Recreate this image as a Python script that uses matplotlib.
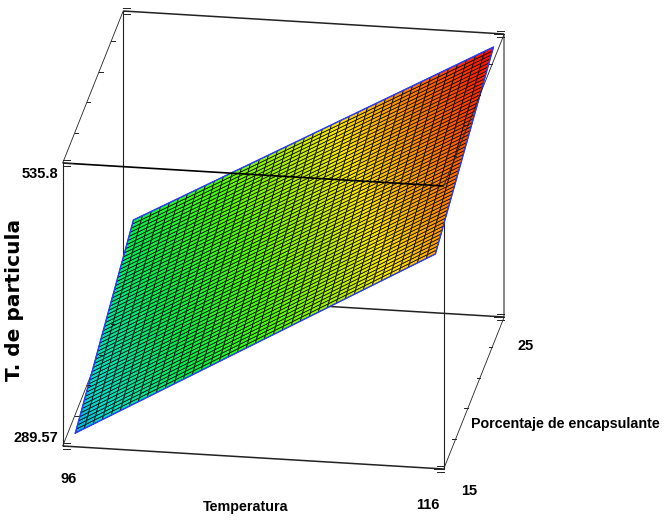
#!/usr/bin/env python3
"""3D response surface: T. de particula vs Temperatura and Porcentaje de encapsulante."""
import numpy as np
import matplotlib
matplotlib.use("Agg")
import matplotlib.pyplot as plt
from matplotlib.collections import PolyCollection
from matplotlib.colors import LinearSegmentedColormap

# axis ranges
temp_range = [96, 116]
pct_range = [15, 25]
size_range = [289.57, 535.8]

# surface corners
surf_temp = [96.6, 115.5]
surf_pct = [15.2, 24.8]
surf_size = [[298.8, 357.2],   # T low: pct low, pct high
             [473.5, 526.6]]   # T high
n_temp = 40
n_pct = 52

pct_ticks = [17, 19, 21, 23]

# oblique projection of the box, in pixels
origin = np.array([62.7, 446.0])
vec_t = np.array([381.0, 23.0])
vec_p = np.array([60.5, -152.0])
vec_z = np.array([0.0, -283.0])


def project(t, p, z):
    a = (np.asarray(t, float) - temp_range[0]) / (temp_range[1] - temp_range[0])
    b = (np.asarray(p, float) - pct_range[0]) / (pct_range[1] - pct_range[0])
    c = (np.asarray(z, float) - size_range[0]) / (size_range[1] - size_range[0])
    x = origin[0] + a * vec_t[0] + b * vec_p[0] + c * vec_z[0]
    y = origin[1] + a * vec_t[1] + b * vec_p[1] + c * vec_z[1]
    return x, y


fig = plt.figure(figsize=(6.64, 5.23), dpi=100)
ax = fig.add_axes([0, 0, 1, 1])
ax.set_xlim(0, 664)
ax.set_ylim(523, 0)
ax.axis("off")

t0, t1 = temp_range
p0, p1 = pct_range
z0, z1 = size_range


def edge(a, b, zorder=1, lw=0.8, color="#222222"):
    xs, ys = project([a[0], b[0]], [a[1], b[1]], [a[2], b[2]])
    ax.plot(xs, ys, color=color, lw=lw, zorder=zorder, solid_capstyle="butt")


# box edges behind the surface
edge((t0, p0, z0), (t0, p0, z1))
edge((t0, p1, z0), (t0, p1, z1))
edge((t1, p0, z0), (t1, p0, z1))
edge((t1, p1, z0), (t1, p1, z1), lw=1.1, color="#666666")
edge((t0, p0, z0), (t1, p0, z0), lw=1.1)
edge((t0, p1, z0), (t1, p1, z0), lw=1.1)
edge((t0, p0, z0), (t0, p1, z0), lw=0.6)
edge((t1, p0, z0), (t1, p1, z0), lw=0.6)
edge((t0, p0, z1), (t0, p1, z1), lw=0.6)
edge((t0, p1, z1), (t1, p1, z1), lw=1.1)

# surface mesh
tt = np.linspace(surf_temp[0], surf_temp[1], n_temp + 1)
pp = np.linspace(surf_pct[0], surf_pct[1], n_pct + 1)
T, P = np.meshgrid(tt, pp, indexing="ij")
u = (T - surf_temp[0]) / (surf_temp[1] - surf_temp[0])
v = (P - surf_pct[0]) / (surf_pct[1] - surf_pct[0])
Z = ((1 - u) * (1 - v) * surf_size[0][0] + (1 - u) * v * surf_size[0][1]
     + u * (1 - v) * surf_size[1][0] + u * v * surf_size[1][1])
X, Y = project(T, P, Z)

cmap = LinearSegmentedColormap.from_list("surf", [
    (0.0, "#0090e8"), (0.10, "#00e0d0"), (0.27, "#00f050"), (0.45, "#50ff00"),
    (0.68, "#ffe800"), (1.0, "#ff0000")])

polys = []
vals = []
for i in range(n_temp):
    for j in range(n_pct):
        polys.append([(X[i, j], Y[i, j]), (X[i + 1, j], Y[i + 1, j]),
                      (X[i + 1, j + 1], Y[i + 1, j + 1]), (X[i, j + 1], Y[i, j + 1])])
        vals.append(Z[i:i + 2, j:j + 2].mean())
vals = np.array(vals)
mesh = PolyCollection(polys, array=(vals - z0) / (z1 - z0), cmap=cmap, clim=(0, 0.97),
                      edgecolors="#0a0a0a", linewidths=0.55, zorder=2)
ax.add_collection(mesh)

# blue outline of the surface
bx = np.concatenate([X[:, 0], X[-1, :], X[::-1, -1], X[0, ::-1]])
by = np.concatenate([Y[:, 0], Y[-1, :], Y[::-1, -1], Y[0, ::-1]])
ax.plot(bx, by, color="#2a3cff", lw=1.0, zorder=3)

# box edges drawn over the surface
edge((t0, p0, z1), (t1, p0, z1), zorder=4, lw=1.2, color="black")
edge((t1, p0, z1), (t1, p1, z1), zorder=4, lw=0.6)

# ticks along the percentage edges
tick_len = 3.5
for pct in pct_ticks:
    for tv, zv, sign in [(t0, z0, 1), (t0, z1, 1), (t1, z0, -1), (t1, z1, -1)]:
        x, y = project(tv, pct, zv)
        ax.plot([x, x + sign * tick_len], [y, y], color="#222222", lw=0.7, zorder=4)

# short marks bunched at the box corners
for tv, pv, zv, sign in [(t0, p0, z1, 1), (t0, p1, z1, 1), (t1, p1, z1, -1),
                         (t0, p0, z0, 1), (t1, p0, z0, -1), (t1, p1, z0, -1)]:
    x, y = project(tv, pv, zv)
    for off, ln in [(-3, 7), (0, 10), (3, 7)]:
        ax.plot([x, x + sign * ln], [y + off, y + off], color="#222222", lw=0.7, zorder=4)

# labels
num_font = dict(family="Liberation Sans", fontweight="bold", fontsize=10.5,
                color="black", va="center")
txt_font = dict(num_font, fontsize=10.3)
ax.text(58, 174, "535.8", ha="right", **num_font)
ax.text(58, 438, "289.57", ha="right", **num_font)
ax.text(69, 479, "96", ha="center", **num_font)
ax.text(428, 505, "116", ha="center", **num_font)
ax.text(469, 491, "15", ha="center", **num_font)
ax.text(526, 346, "25", ha="center", **num_font)
ax.text(246, 507, "Temperatura", ha="center", **txt_font)
ax.text(471, 424, "Porcentaje de encapsulante", ha="left", **txt_font)
ax.text(15, 300, "T. de particula", rotation=90, ha="center", va="center",
        family="DejaVu Sans", fontweight="bold", fontsize=14.5, color="black")

fig.savefig("out.png", dpi=100)
